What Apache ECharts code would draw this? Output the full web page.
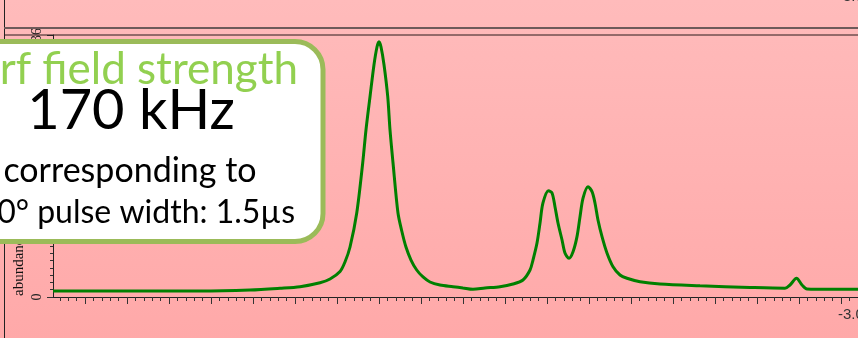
<!DOCTYPE html>
<html><head><meta charset="utf-8">
<script src="https://cdn.jsdelivr.net/npm/echarts@6/dist/echarts.min.js"></script>
<style>html,body{margin:0;padding:0;overflow:hidden;background:#FFB3B3}#c{width:858px;height:338px}</style>
</head><body><div id="c"></div>
<script>
// chemical shift (x) and abundance (y)
const shift = [-2.0619,-2.1179,-2.1774,-2.2369,-2.2964,-2.3321,-2.3560,-2.3798,-2.3917,-2.4036,
  -2.4095,-2.4155,-2.4235,-2.4306,-2.4345,-2.4393,-2.4440,-2.4476,-2.4500,-2.4524,
  -2.4560,-2.4604,-2.4631,-2.4667,-2.4726,-2.4774,-2.4821,-2.4881,-2.4949,-2.5024,
  -2.5107,-2.5226,-2.5381,-2.5500,-2.5619,-2.5762,-2.5940,-2.6095,-2.6214,-2.6298,
  -2.6333,-2.6381,-2.6417,-2.6452,-2.6518,-2.6560,-2.6595,-2.6631,-2.6679,-2.6714,
  -2.6762,-2.6810,-2.6857,-2.6893,-2.6929,-2.6988,-2.7036,-2.7071,-2.7107,-2.7155,
  -2.7214,-2.7286,-2.7369,-2.7452,-2.7607,-2.7845,-2.8321,-2.8917,-2.9333,-2.9393,
  -2.9470,-2.9536,-2.9595,-2.9869,-3.0202,-3.0321];
const abundance = [0.82,0.82,0.82,0.82,0.96,1.20,1.42,1.96,2.47,3.50,
  4.81,6.87,11.54,18.41,22.95,27.52,31.88,34.35,35.08,34.35,
  31.88,27.52,22.95,18.41,11.54,8.93,6.87,5.08,3.71,2.75,
  2.06,1.65,1.42,1.24,1.06,1.24,1.42,1.79,2.34,3.71,
  5.08,7.42,10.17,12.92,14.61,14.29,12.41,10.17,7.83,6.05,
  5.32,6.22,8.29,11.03,13.60,15.16,14.47,12.92,10.58,8.29,
  6.05,4.16,3.02,2.57,2.10,1.79,1.55,1.31,1.20,1.65,
  2.57,1.65,1.10,1.06,1.06,1.06];
const xLabelValues = [-3.0];
const xTickLabels = ['-3.0'];
const yTickLabels = ['0','9','18','27','36'];
const boxTitle = 'rf field strength';
const boxValue = '170 kHz';
const boxLine3 = 'corresponding to';
const boxLine4 = '90\u00b0 pulse width: 1.5\u00b5s';

const xMin = -3.0 - 27 * 0.05 / 42;
const xMax = -3.0 + 788 * 0.05 / 42;
const xMajor = [];
for (let k = 0; k <= 18; k++) xMajor.push(+(-3.0 + k * 0.05).toFixed(2));
const xMinor = [];
for (let k = -3; k <= 93; k++) xMinor.push(+(-3.0 + k * 0.01).toFixed(2));

const data = shift.map((s, i) => [s, abundance[i]]);
const chart = echarts.init(document.getElementById('c'));
const axisCol = '#222';
chart.setOption({
  animation: false,
  backgroundColor: 'transparent',
  grid: { left: 53, right: -10, top: 35, bottom: 41, containLabel: false, outerBoundsMode: 'none', show: false },
  xAxis: [{
    type: 'value', inverse: true, min: xMin, max: xMax,
    axisLine: { show: true, lineStyle: { color: axisCol, width: 1 } },
    axisTick: { show: true, customValues: xMajor, length: 7, lineStyle: { color: '#333' } },
    axisLabel: { show: true, customValues: xLabelValues, formatter: v => xTickLabels[xLabelValues.findIndex(t => Math.abs(t - v) < 1e-6)] || '',
      align: 'left', margin: 10, padding: [0, 0, 0, -3], color: '#333', fontFamily: 'Liberation Sans', fontSize: 15 },
    splitLine: { show: false }
  }, {
    type: 'value', inverse: true, min: xMin, max: xMax, position: 'bottom',
    axisLine: { show: false },
    axisTick: { show: true, customValues: xMinor, length: 4, lineStyle: { color: '#333' } },
    axisLabel: { show: false }, splitLine: { show: false }
  }],
  yAxis: {
    type: 'value', min: 0, max: 36, interval: 9,
    axisLine: { show: true, lineStyle: { color: axisCol } },
    axisTick: { show: true, length: 6, lineStyle: { color: '#333' } },
    minorTick: { show: true, splitNumber: 9, length: 3, lineStyle: { color: '#333' } },
    axisLabel: { rotate: 90, margin: 9, color: '#222', fontFamily: 'Liberation Serif', fontSize: 14,
      formatter: (v) => yTickLabels[Math.round(v / 9)] },
    splitLine: { show: false }
  },
  series: [{
    type: 'line', data: data, xAxisIndex: 0, showSymbol: false, symbol: 'none',
    smooth: 0.3, lineStyle: { color: '#008000', width: 3 }, z: 5
  }],
  graphic: [
    { type: 'rect', z: -100, shape: { x: 0, y: 0, width: 858, height: 338 },
      style: { fill: { type: 'linear', x: 0, y: 0, x2: 0, y2: 1,
        colorStops: [{ offset: 0, color: '#FFBBBB' }, { offset: 1, color: '#FFA9A9' }] } } },
    { type: 'line', z: 10, shape: { x1: 4.5, y1: 0, x2: 4.5, y2: 338 }, style: { stroke: '#222', lineWidth: 1 } },
    { type: 'line', z: 10, shape: { x1: 4, y1: 28, x2: 858, y2: 28 }, style: { stroke: '#6e5a5a', lineWidth: 2.2 } },
    { type: 'line', z: 10, shape: { x1: 4, y1: 35, x2: 858, y2: 35 }, style: { stroke: '#2a1a1a', lineWidth: 1 } },
    { type: 'text', z: 10, x: 838, y: 4, style: { text: '-3.0', fill: '#333', font: '15px "Liberation Sans"', textAlign: 'left', align: 'left', textVerticalAlign: 'bottom', verticalAlign: 'bottom' } },
    { type: 'text', z: 10, x: 27, y: 296, rotation: Math.PI / 2,
      style: { text: 'abundance', fill: '#111', font: '15px "Liberation Serif"', textAlign: 'left', align: 'left', textVerticalAlign: 'bottom', verticalAlign: 'bottom' } },
    { type: 'rect', z: 100, shape: { x: -40, y: 41.5, width: 363, height: 200, r: 28 },
      style: { fill: '#ffffff', stroke: '#9BBB59', lineWidth: 5 } },
    { type: 'text', z: 101, x: 298, y: 70, style: { text: boxTitle, fill: '#92D050', font: '44px Lato', textAlign: 'right', align: 'right', textVerticalAlign: 'middle', verticalAlign: 'middle' } },
    { type: 'text', z: 101, x: 131, y: 111, style: { text: boxValue, fill: '#000', font: '56px Lato', textAlign: 'center', align: 'center', textVerticalAlign: 'middle', verticalAlign: 'middle' } },
    { type: 'text', z: 101, x: 130, y: 171, style: { text: boxLine3, fill: '#000', font: '34px Lato', textAlign: 'center', align: 'center', textVerticalAlign: 'middle', verticalAlign: 'middle' } },
    { type: 'text', z: 101, x: 295, y: 213, style: { text: boxLine4, fill: '#000', font: '32px Lato', textAlign: 'right', align: 'right', textVerticalAlign: 'middle', verticalAlign: 'middle' } }
  ]
});
</script></body></html>
